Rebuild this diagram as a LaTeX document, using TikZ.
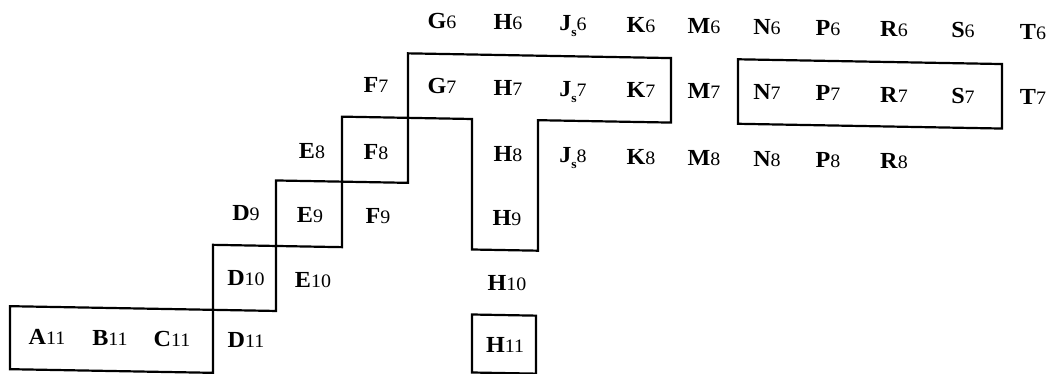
\documentclass[tikz,border=0pt]{standalone}
\usepackage{fontspec}
\setmainfont{Liberation Serif}
\newfontfamily\labfont[FakeStretch=1.05]{Liberation Serif}
\newcommand\cl[2]{{\labfont\fontsize{23}{23}\selectfont\textbf{#1}{\fontsize{19}{19}\selectfont #2}}}
\newcommand\js[1]{{\labfont\fontsize{23}{23}\selectfont\textbf{J}\raisebox{-6pt}{\fontsize{13}{13}\selectfont\textbf{s}}{\fontsize{19}{19}\selectfont #1}}}
\tikzset{
  cell/.style={inner sep=0pt, anchor=base},
  outline/.style={line width=2.2pt, line join=miter}
}
\begin{document}
\begin{tikzpicture}[x=1pt,y=-1pt]
\useasboundingbox (0,0) rectangle (1053,374);
\begin{scope}[yslant=-0.018]
% rows baselines (center + 7.5)
\def\ra{20.5}\def\rb{86}\def\rc{152.5}\def\rd{216.5}\def\re{281.5}\def\rf{343.5}
% row 6
\node[cell] (G6) at (442,\ra) {\cl{G}{6}};
\node[cell] (H6) at (508,\ra) {\cl{H}{6}};
\node[cell] (J6) at (573,\ra) {\js{6}};
\node[cell] (K6) at (641,\ra) {\cl{K}{6}};
\node[cell] (M6) at (704,\ra) {\cl{M}{6}};
\node[cell] (N6) at (767,\ra) {\cl{N}{6}};
\node[cell] (P6) at (828,\ra) {\cl{P}{6}};
\node[cell] (R6) at (894,\ra) {\cl{R}{6}};
\node[cell] (S6) at (963,\ra) {\cl{S}{6}};
\node[cell] (T6) at (1033,\ra) {\cl{T}{6}};
% row 7
\node[cell] (F7) at (376,\rb) {\cl{F}{7}};
\node[cell] (G7) at (442,\rb) {\cl{G}{7}};
\node[cell] (H7) at (508,\rb) {\cl{H}{7}};
\node[cell] (J7) at (573,\rb) {\js{7}};
\node[cell] (K7) at (641,\rb) {\cl{K}{7}};
\node[cell] (M7) at (704,\rb) {\cl{M}{7}};
\node[cell] (N7) at (767,\rb) {\cl{N}{7}};
\node[cell] (P7) at (828,\rb) {\cl{P}{7}};
\node[cell] (R7) at (894,\rb) {\cl{R}{7}};
\node[cell] (S7) at (963,\rb) {\cl{S}{7}};
\node[cell] (T7) at (1033,\rb) {\cl{T}{7}};
% row 8
\node[cell] (E8) at (312,\rc) {\cl{E}{8}};
\node[cell] (F8) at (376,\rc) {\cl{F}{8}};
\node[cell] (H8) at (508,\rc) {\cl{H}{8}};
\node[cell] (J8) at (573,\rc) {\js{8}};
\node[cell] (K8) at (641,\rc) {\cl{K}{8}};
\node[cell] (M8) at (704,\rc) {\cl{M}{8}};
\node[cell] (N8) at (767,\rc) {\cl{N}{8}};
\node[cell] (P8) at (828,\rc) {\cl{P}{8}};
\node[cell] (R8) at (894,\rc) {\cl{R}{8}};
% row 9
\node[cell] (D9) at (246,\rd) {\cl{D}{9}};
\node[cell] (E9) at (310,\rd) {\cl{E}{9}};
\node[cell] (F9) at (378,\rd) {\cl{F}{9}};
\node[cell] (H9) at (507,\rd) {\cl{H}{9}};
% row 10
\node[cell] (D10) at (246,\re) {\cl{D}{10}};
\node[cell] (E10) at (313,\re) {\cl{E}{10}};
\node[cell] (H10) at (507,\re) {\cl{H}{10}};
% row 11
\node[cell] (A11) at (47,\rf) {\cl{A}{11}};
\node[cell] (B11) at (110,\rf) {\cl{B}{11}};
\node[cell] (C11) at (172,\rf) {\cl{C}{11}};
\node[cell] (D11) at (246,\rf) {\cl{D}{11}};
\node[cell] (H11) at (505,\rf) {\cl{H}{11}};
% outlines
\draw[outline] (10,306) rectangle (213,369);
\draw[outline] (213,241) rectangle (276,306);
\draw[outline] (276,175.5) rectangle (342,241);
\draw[outline] (342,110.5) rectangle (408,175.5);
\draw[outline] (408,110.5) -- (408,46) -- (671,46) -- (671,110.5) -- (538,110.5)
  -- (538,241) -- (472,241) -- (472,110.5) -- cycle;
\draw[outline] (472,306) rectangle (536,364);
\draw[outline] (738,46) rectangle (1002,110.5);
\end{scope}
\end{tikzpicture}
\end{document}
